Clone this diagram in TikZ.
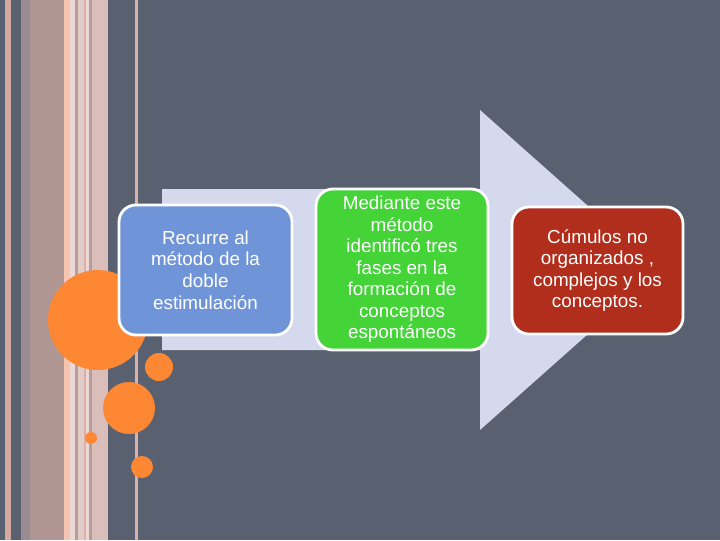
\documentclass[tikz,border=0pt]{standalone}
\usepackage{fontspec}
\setmainfont{Liberation Sans}
\definecolor{slate}{RGB}{89,96,112}
\definecolor{lavender}{RGB}{212,217,238}
\definecolor{boxblue}{RGB}{112,148,216}
\definecolor{boxgreen}{RGB}{68,212,56}
\definecolor{boxred}{RGB}{178,46,28}
\definecolor{dotorange}{RGB}{253,135,50}
\definecolor{rose}{RGB}{212,170,160}
\definecolor{greymauve}{RGB}{154,139,146}
\definecolor{mauve}{RGB}{176,150,146}
\definecolor{peach}{RGB}{246,196,176}
\definecolor{pale}{RGB}{236,216,212}
\definecolor{dusk}{RGB}{184,156,156}
\definecolor{blush}{RGB}{226,204,200}
\definecolor{pinkline}{RGB}{218,176,168}
\definecolor{sand}{RGB}{218,190,186}

\begin{document}
\begin{tikzpicture}[x=0.025cm,y=-0.025cm,
  stage/.style={rectangle,rounded corners=12pt,draw=white,line width=2pt,
    text=white,align=center,font=\fontsize{13.4}{15.3}\selectfont},
  dot/.style={circle,fill=dotorange,inner sep=0pt}]
\useasboundingbox (0,0) rectangle (720,540);
\fill[slate] (0,0) rectangle (720,540);

% stripes on the left
\foreach \xa/\xb/\col in {5/11/rose,21/30/greymauve,30/64/mauve,64/70/peach,
    70/75/pale,75/78/dusk,78/84/blush,84/86/pinkline,86/89/pale,89/92/dusk,
    92/108/sand,135/138/pinkline}
  \fill[\col] (\xa,0) rectangle (\xb,540);

% big arrow
\fill[lavender] (162,189) -- (480,189) -- (480,110) -- (660,270)
  -- (480,430) -- (480,350) -- (162,350) -- cycle;

% dots
\node [dot,minimum size=100*0.025cm] (bigdot) at (98,320) {};
\node [dot,minimum size=52*0.025cm] (middot) at (129,408) {};
\node [dot,minimum size=28*0.025cm] (sidedot) at (159,367) {};
\node [dot,minimum size=22*0.025cm] (lowdot) at (142,467) {};
\node [dot,minimum size=12*0.025cm] (tinydot) at (91,438) {};

\node [stage,fill=boxblue,minimum width=173*0.025cm,minimum height=130*0.025cm] (method) at (205.5,270)
  {Recurre al\\método de la\\doble\\estimulación};
\node [stage,fill=boxgreen,minimum width=172*0.025cm,minimum height=161*0.025cm] (phases) at (402,269.5)
  {Mediante este\\método\\identificó tres\\fases en la\\formación de\\conceptos\\espontáneos};
\node [stage,fill=boxred,minimum width=171*0.025cm,minimum height=127*0.025cm] (heaps) at (597.5,270.5)
  {Cúmulos no\\organizados ,\\complejos y los\\conceptos.};
\end{tikzpicture}
\end{document}
